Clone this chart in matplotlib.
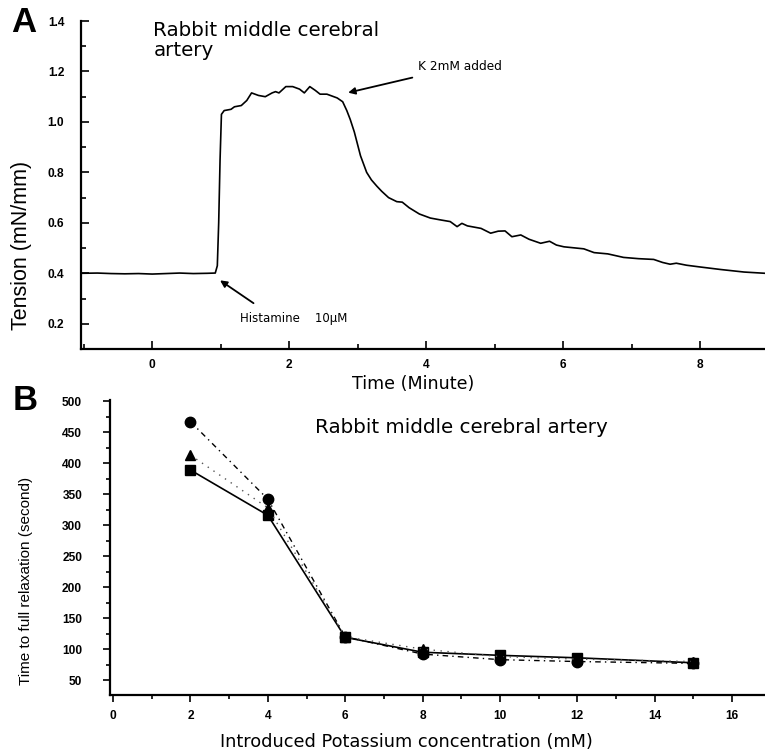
import matplotlib
matplotlib.use("Agg")
import matplotlib.pyplot as plt
from matplotlib.ticker import MultipleLocator
import numpy as np

# Panel A: tension trace
time_min = [-1.04, -0.8, -0.6, -0.4, -0.2, 0.0, 0.2, 0.4, 0.6, 0.8, 0.92,
            0.95, 0.97, 0.99, 1.01, 1.05, 1.15, 1.2, 1.3, 1.38, 1.45, 1.55,
            1.65, 1.75, 1.8, 1.85, 1.95, 2.05, 2.15, 2.22, 2.3, 2.38, 2.45,
            2.55, 2.7, 2.78, 2.84, 2.89, 2.95, 3.04, 3.13, 3.2, 3.28, 3.35,
            3.45, 3.57, 3.65, 3.75, 3.9, 4.06, 4.2, 4.35, 4.45, 4.52, 4.6,
            4.8, 4.94, 5.05, 5.15, 5.25, 5.38, 5.5, 5.67, 5.8, 5.9, 6.01,
            6.3, 6.45, 6.65, 6.88, 7.1, 7.32, 7.45, 7.56, 7.65, 7.8, 8.0,
            8.3, 8.64, 8.95]
tension = [0.400, 0.401, 0.399, 0.398, 0.399, 0.397, 0.399, 0.401, 0.399,
           0.400, 0.401, 0.43, 0.60, 0.85, 1.03, 1.045, 1.05, 1.06, 1.065,
           1.085, 1.115, 1.105, 1.10, 1.115, 1.12, 1.115, 1.14, 1.14, 1.13,
           1.115, 1.14, 1.125, 1.11, 1.11, 1.095, 1.08, 1.045, 1.01, 0.96,
           0.866, 0.80, 0.77, 0.745, 0.725, 0.70, 0.684, 0.682, 0.66, 0.635,
           0.619, 0.612, 0.605, 0.585, 0.598, 0.588, 0.578, 0.559, 0.567,
           0.568, 0.545, 0.552, 0.535, 0.519, 0.527, 0.512, 0.505, 0.497,
           0.482, 0.477, 0.463, 0.458, 0.455, 0.443, 0.436, 0.44, 0.432,
           0.425, 0.415, 0.405, 0.40]

# Panel B: time to full relaxation
k_conc = [2, 4, 6, 8, 10, 12, 15]
relax_square = [389, 316, 119, 95, 90, 86, 78]
relax_circle = [467, 342, 120, 92, 83, 80, 77]
relax_triangle = [413, 328, 120, 100, 88, 84, 80]


def style_ticks(ax, size=8.6):
    for lab in ax.get_xticklabels() + ax.get_yticklabels():
        lab.set_family("Liberation Sans")
        lab.set_weight("bold")
        lab.set_fontsize(size)


fig = plt.figure(figsize=(7.65, 7.53), dpi=100)

# ---------------- panel A ----------------
axA = fig.add_axes([81 / 765, 1 - 349 / 753, 684 / 765, 328 / 753])
axA.plot(time_min, tension, color="black", lw=1.2)
axA.set_xlim(-1.04, 8.945)
axA.set_ylim(0.1, 1.4)
for s in ("top", "right"):
    axA.spines[s].set_visible(False)
for s in ("left", "bottom"):
    axA.spines[s].set_linewidth(1.6)
axA.xaxis.set_major_locator(MultipleLocator(2))
axA.xaxis.set_minor_locator(MultipleLocator(1))
axA.yaxis.set_minor_locator(MultipleLocator(0.1))
axA.set_yticks([0.2, 0.4, 0.6, 0.8, 1.0, 1.2, 1.4])
axA.yaxis.set_major_formatter(plt.FuncFormatter(lambda v, p: f"{v:.1f}"))
axA.tick_params(which="both", direction="in", width=1.2)
axA.tick_params(which="major", length=6)
axA.tick_params(which="minor", length=3.5)
axA.tick_params(axis="y", which="major", pad=12)
axA.tick_params(axis="x", which="major", pad=7)
style_ticks(axA)

axA.set_xlabel("Time (Minute)", fontsize=12.6, family="DejaVu Sans")
axA.xaxis.set_label_coords(0.485, -0.079)
axA.set_ylabel("Tension (mN/mm)", fontsize=15.5, family="Liberation Sans")
axA.yaxis.set_label_coords(-0.0716, 0.316)

axA.text(0.015, 1.40, "Rabbit middle cerebral", fontsize=14.3,
         family="DejaVu Sans", va="top", ha="left")
axA.text(0.015, 1.32, "artery", fontsize=14.3,
         family="DejaVu Sans", va="top", ha="left")

axA.annotate("K 2mM added", xy=(2.86, 1.116), xytext=(3.88, 1.22),
             fontsize=8.7, family="DejaVu Sans", va="center", ha="left",
             arrowprops=dict(arrowstyle="-|>", color="black", lw=1.3,
                             shrinkA=6, shrinkB=0, mutation_scale=10))
axA.annotate("Histamine    10\u03bcM", xy=(0.99, 0.372), xytext=(1.28, 0.22),
             fontsize=8.5, family="DejaVu Sans", va="center", ha="left",
             arrowprops=dict(arrowstyle="-|>", color="black", lw=1.3,
                             shrinkA=8, shrinkB=0, mutation_scale=10,
                             relpos=(0.25, 1.0)))

fig.text(24 / 765, 1 - 22 / 753, "A", fontsize=25, weight="bold",
         family="Liberation Sans", ha="center", va="center")

# ---------------- panel B ----------------
axB = fig.add_axes([110 / 765, 1 - 695 / 753, 655 / 765, 295 / 753])
axB.plot(k_conc, relax_square, color="black", lw=1.2, ls="-",
         marker="s", ms=7.5, mfc="black", mec="black", zorder=3)
axB.plot(k_conc, relax_circle, color="black", lw=1.0, ls=(0, (4, 3, 1, 3)),
         marker="o", ms=7.5, mfc="black", mec="black", zorder=3)
axB.plot(k_conc, relax_triangle, color="#555555", lw=1.0, ls=(0, (1, 4)),
         marker="^", ms=7.5, mfc="black", mec="black", zorder=3)
axB.set_xlim(-0.08, 16.85)
axB.set_ylim(26, 502)
for s in ("top", "right"):
    axB.spines[s].set_visible(False)
for s in ("left", "bottom"):
    axB.spines[s].set_linewidth(1.6)
axB.xaxis.set_major_locator(MultipleLocator(2))
axB.xaxis.set_minor_locator(MultipleLocator(1))
axB.yaxis.set_minor_locator(MultipleLocator(25))
axB.set_yticks(np.arange(50, 501, 50))
axB.tick_params(which="both", direction="out", width=1.2)
axB.tick_params(which="major", length=5)
axB.tick_params(which="minor", length=3)
axB.tick_params(axis="y", which="major", pad=15)
axB.tick_params(axis="x", which="major", pad=6)
style_ticks(axB)

axB.set_xlabel("Introduced Potassium concentration (mM)", fontsize=12.8,
               family="DejaVu Sans")
axB.xaxis.set_label_coords(0.453, -0.129)
axB.set_ylabel("Time to full relaxation (second)", fontsize=11,
               family="Liberation Sans")
axB.yaxis.set_label_coords(-0.118, 0.385)

axB.text(5.22, 458, "Rabbit middle cerebral artery", fontsize=14.3,
         family="DejaVu Sans", va="center", ha="left")

fig.text(25 / 765, 1 - 400 / 753, "B", fontsize=25, weight="bold",
         family="Liberation Sans", ha="center", va="center")

fig.savefig("out.png", dpi=100)
